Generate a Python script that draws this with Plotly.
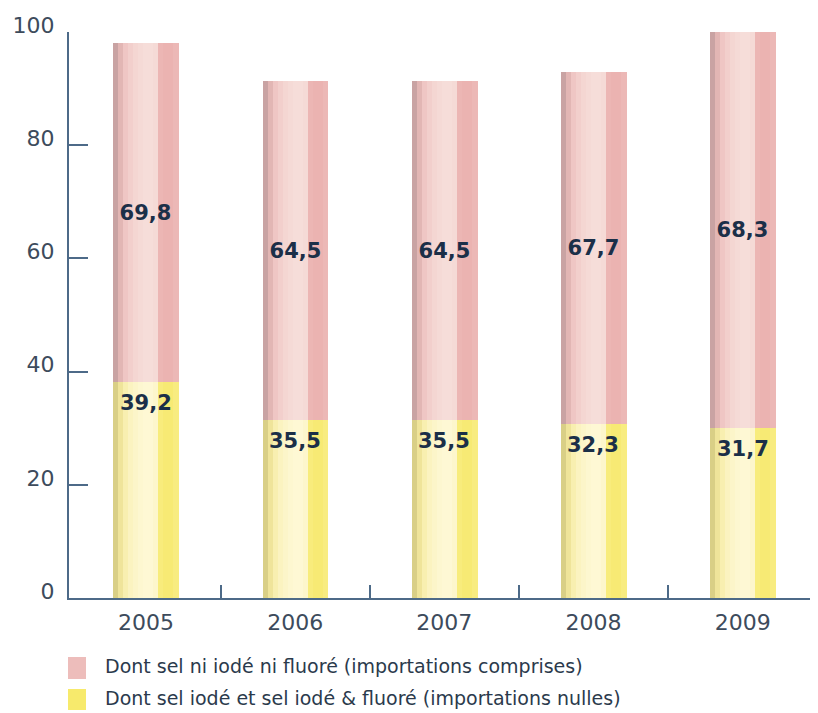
import plotly.graph_objects as go

# ------------------ DATA ------------------
years = ["2005", "2006", "2007", "2008", "2009"]
# bar heights
iode_height = [38.1, 31.5, 31.5, 30.7, 30.1]        # yellow part
non_iode_height = [60.0, 59.8, 59.8, 62.2, 69.9]    # pink part on top
# printed labels
iode_labels = ["39,2", "35,5", "35,5", "32,3", "31,7"]
non_iode_labels = ["69,8", "64,5", "64,5", "67,7", "68,3"]

legend_names = [
    "Dont sel ni iodé ni fluoré (importations comprises)",
    "Dont sel iodé et sel iodé & fluoré (importations nulles)",
]

# ------------------ STYLE ------------------
# page body adds an 8px margin, so the figure is 8px smaller
OFF = 8
W, H = 818 - OFF, 713 - OFF
M_L, M_R, M_T, M_B = 69 - OFF, 0, 32 - OFF, 115
BAR_W = 0.436

# cylinder look: vertical stripes, left to right
pink_stripes = ["#c9a3a3", "#e2b6b4", "#efc6c4", "#f2cfcc", "#f4d6d2", "#f5dad6", "#f6ddd9",
                "#f6ddd9", "#f5dad6", "#ecb6b4", "#ebb3b1", "#ebb3b1", "#ecb8b6"]
yellow_stripes = ["#d9cf86", "#efe49a", "#f8efb0", "#fbf3c0", "#fcf5c9", "#fdf7d0", "#fef8d4",
                  "#fef8d4", "#fdf6cc", "#f8ec7c", "#f7ea74", "#f7ea74", "#f8ec80"]

AXIS_COLOR = "#4d6a88"
TICK_FONT = dict(family="DejaVu Sans", size=22, color="#3d4b5c")
LABEL_FONT = dict(family="DejaVu Sans", size=21, color="#1b2f48", weight="bold")

x = list(range(len(years)))
fig = go.Figure()

n = len(pink_stripes)
sw = BAR_W / n
for base, heights, stripes in [(None, iode_height, yellow_stripes),
                               (iode_height, non_iode_height, pink_stripes)]:
    for i, c in enumerate(stripes):
        fig.add_trace(go.Bar(
            x=x, y=heights, base=base,
            width=sw * 1.15, offset=-BAR_W / 2 + i * sw,
            marker=dict(color=c, line=dict(width=0)),
            showlegend=False, hoverinfo="skip",
        ))

# transparent full bars for hover + pink labels
fig.add_trace(go.Bar(
    x=x, y=iode_height, width=BAR_W, offset=-BAR_W / 2,
    marker=dict(color="rgba(0,0,0,0)", line=dict(width=0)),
    name=legend_names[1], showlegend=False,
))
fig.add_trace(go.Bar(
    x=x, y=non_iode_height, base=iode_height, width=BAR_W, offset=-BAR_W / 2,
    marker=dict(color="rgba(0,0,0,0)", line=dict(width=0)),
    text=non_iode_labels, textposition="inside", insidetextanchor="middle",
    textangle=0, insidetextfont=LABEL_FONT, name=legend_names[0], showlegend=False,
))

# yellow labels sit just under the top of the yellow part
for xi, h, lab in zip(x, iode_height, iode_labels):
    fig.add_annotation(x=xi, y=h, text=lab, showarrow=False, yanchor="middle",
                       yshift=-21, font=LABEL_FONT)

# ------------------ LEGEND (drawn by hand) ------------------
plot_w = W - M_L - M_R
plot_h = H - M_T - M_B


def px_x(p):
    # p in window pixels
    return (p - OFF - M_L) / plot_w


def px_y(p):
    return (H - M_B - (p - OFF)) / plot_h


legend_rows = [(657, 679, "#edbdbb", 666), (689, 710, "#f7ea6c", 698)]
for (y0, y1, col, yt), name in zip(legend_rows, legend_names):
    fig.add_shape(type="rect", xref="paper", yref="paper",
                  x0=px_x(68), x1=px_x(86), y0=px_y(y1), y1=px_y(y0),
                  fillcolor=col, line=dict(width=0))
    fig.add_annotation(xref="paper", yref="paper", x=px_x(103), y=px_y(yt),
                       xanchor="left", yanchor="middle", showarrow=False, text=name,
                       font=dict(family="DejaVu Sans", size=19, color="#2b3a4c"))

# ------------------ LAYOUT ------------------
fig.update_layout(
    width=W, height=H,
    margin=dict(l=M_L, r=M_R, t=M_T, b=M_B),
    paper_bgcolor="white", plot_bgcolor="white",
    barmode="overlay", bargap=0,
    showlegend=False,
)
fig.update_xaxes(
    range=[-0.516, 4.505],
    tickvals=x, ticktext=years, ticks="",
    tickfont=TICK_FONT, ticklabelstandoff=4,
    showline=True, linecolor=AXIS_COLOR, linewidth=2,
    showgrid=False, zeroline=False,
    minor=dict(tickvals=[0.5, 1.5, 2.5, 3.5], ticks="inside", ticklen=13,
               tickwidth=2, tickcolor=AXIS_COLOR, showgrid=False),
)
fig.update_yaxes(
    range=[0, 100], tickvals=[0, 20, 40, 60, 80, 100],
    ticks="inside", ticklen=19, tickwidth=2, tickcolor=AXIS_COLOR,
    tickfont=TICK_FONT, ticklabelstandoff=8, ticklabelshift=-7,
    showline=True, linecolor=AXIS_COLOR, linewidth=2,
    showgrid=False, zeroline=False,
)

fig.write_html("out.html")
